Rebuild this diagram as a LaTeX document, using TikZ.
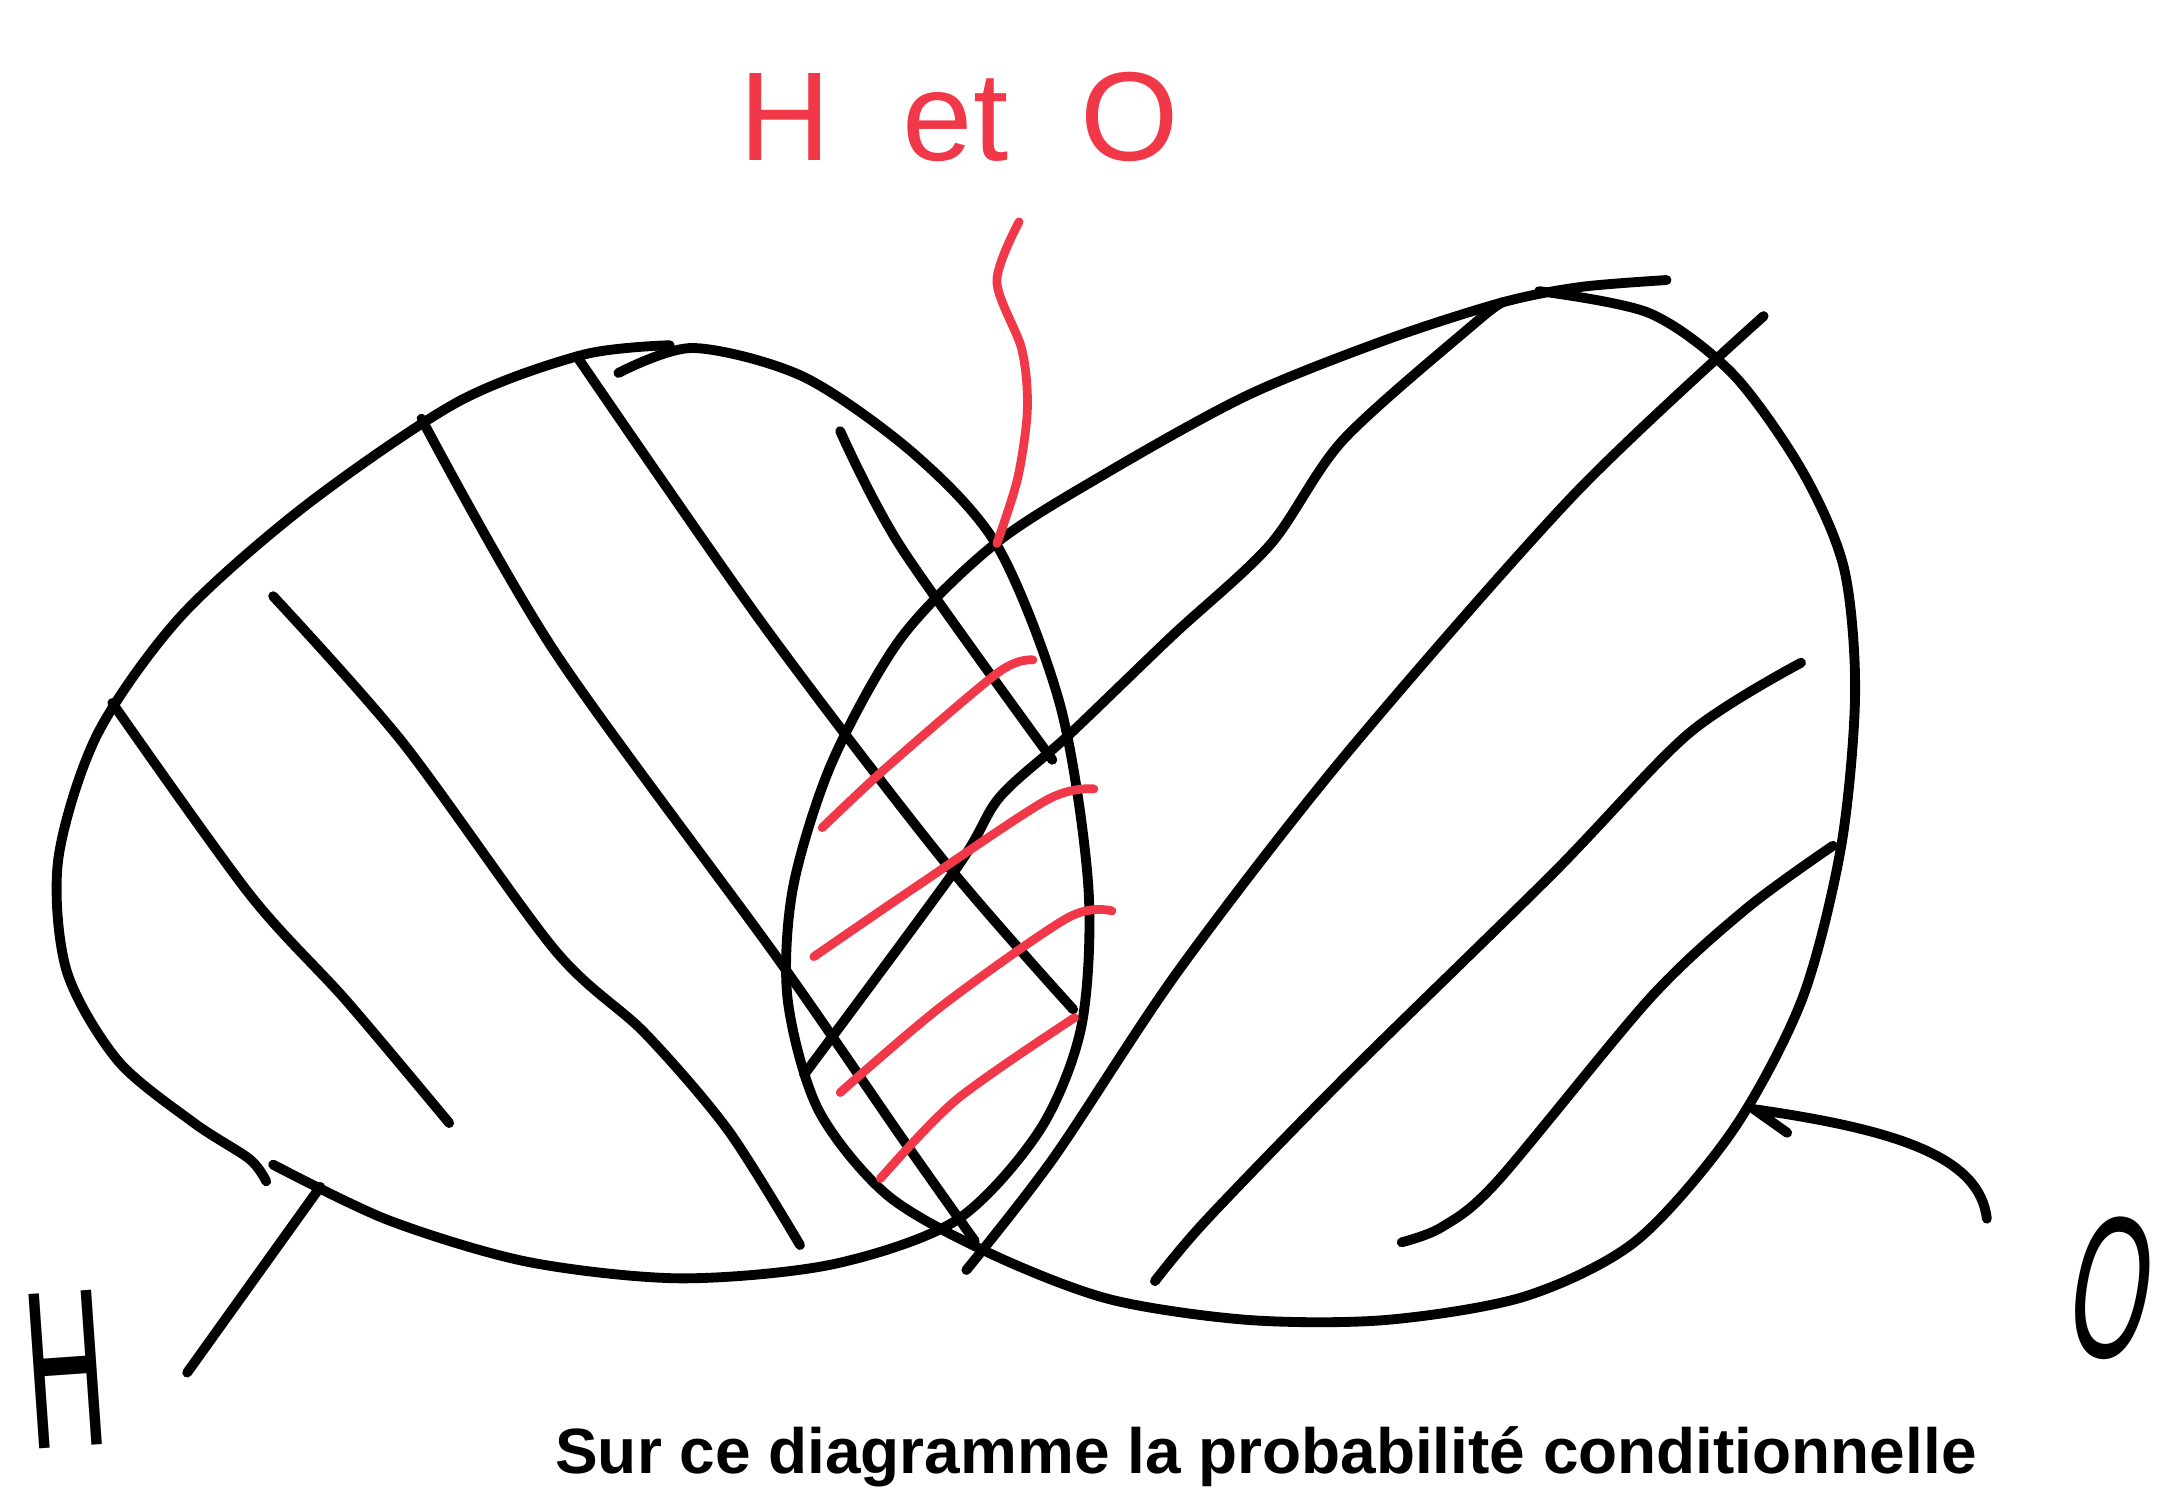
\documentclass[tikz,border=0pt]{standalone}
\usepackage{fontspec}
\setmainfont{Liberation Sans}
\usetikzlibrary{positioning}
\definecolor{sketchred}{RGB}{240, 56, 72}

\begin{document}
\begin{tikzpicture}[x=0.013865cm, y=-0.013865cm,
        pen/.style={line width=2.8pt, line cap=round, line join=round},
        redpen/.style={pen, draw=sketchred, line width=2.5pt},
        hand/.style={inner sep=0pt, font=\fontsize{64}{64}\selectfont},
        redhand/.style={inner sep=0pt, text=sketchred,
            font=\fontsize{36}{36}\selectfont}
    ]
    \useasboundingbox (0,0) rectangle (1568,1076);

    \draw[pen] plot[smooth] coordinates {(446,269) (500,251) (580,272)
        (660,328) (720,395) (765,510) (785,640) (780,740) (750,815) (690,880)
        (600,912) (490,922) (380,910) (280,880) (197,840)};
    \draw[pen] plot[smooth] coordinates {(483,249) (420,256) (330,290)
        (220,365) (130,445) (70,530) (42,620) (48,700) (85,765) (140,810)
        (180,836) (192,852)};

    \draw[pen] plot[smooth] coordinates {(1202,202) (1140,207) (1084,218)
        (1000,245) (900,285) (800,340) (718,392) (650,460) (600,550)
        (572,640) (568,720) (590,800) (640,862) (714,904) (800,937) (900,952)
        (1000,952) (1100,935) (1180,895) (1250,815) (1300,720) (1328,610)
        (1338,500) (1330,410) (1300,340) (1250,270) (1190,226) (1110,210)};

    \draw[pen] plot[smooth] coordinates {(81,507) (180,645) (250,722) (324,810)};
    \draw[pen] plot[smooth] coordinates {(197,430) (290,535) (400,685)
        (465,745) (525,815) (577,898)};
    \draw[pen] plot[smooth] coordinates {(304,302) (400,470) (560,690)
        (650,820) (703,895)};
    \draw[pen] plot[smooth] coordinates {(416,257) (550,450) (680,620) (774,728)};
    \draw[pen] plot[smooth] coordinates {(606,311) (650,395) (759,548)};

    \draw[pen] plot[smooth] coordinates {(1084,218) (1065,232) (969,317)
        (916,393) (845,459) (771,530) (721,575) (690,626) (580,775)};
    \draw[pen] plot[smooth] coordinates {(1272,228) (1135,357) (970,545)
        (850,700) (760,835) (697,916)};
    \draw[pen] plot[smooth] coordinates {(1299,478) (1218,529) (1120,630)
        (970,777) (870,880) (833,924)};
    \draw[pen] plot[smooth] coordinates {(1322,610) (1260,655) (1190,720)
        (1080,852) (1040,885) (1011,896)};

    \draw[redpen] plot[smooth] coordinates {(745,476) (720,485) (640,553) (593,597)};
    \draw[redpen] plot[smooth] coordinates {(789,569) (755,577) (660,640) (587,690)};
    \draw[redpen] plot[smooth] coordinates {(802,657) (770,662) (680,725) (606,788)};
    \draw[redpen] plot[smooth] coordinates {(775,734) (690,793) (635,850)};

    \node[redhand, anchor=base west] (inter) at (533,116)
        {\spaceskip=0.72cm H et O};
    \node[hand, rotate=4] (setH) at (47,988) {\scalebox{0.5}[1]{H}};
    \node[hand, rotate=-10, font=\fontsize{58}{58}\selectfont] (setO)
        at (1524,929) {\scalebox{0.5}[1]{O}};
    \node[inner sep=0pt, anchor=base west,
        font=\bfseries\fontsize{18.2}{22}\selectfont] (caption) at (400,1063)
        {Sur ce diagramme la probabilité conditionnelle};

    \coordinate (interTip) at (719,392);
    \coordinate (interTail) at (735,160);
    \coordinate (hTip) at (231,856);
    \coordinate (hTail) at (135,990);
    \coordinate (oTip) at (1265,800);
    \coordinate (oTail) at (1433,879);

    \draw[redpen] plot[smooth] coordinates {(interTail) (719,203) (737,252)
        (741,295) (734,345) (interTip)};
    \draw[pen] (hTip) -- (hTail);
    \draw[pen] (1289,817) -- (oTip) .. controls (1370,815) and (1428,835) .. (oTail);
\end{tikzpicture}
\end{document}
